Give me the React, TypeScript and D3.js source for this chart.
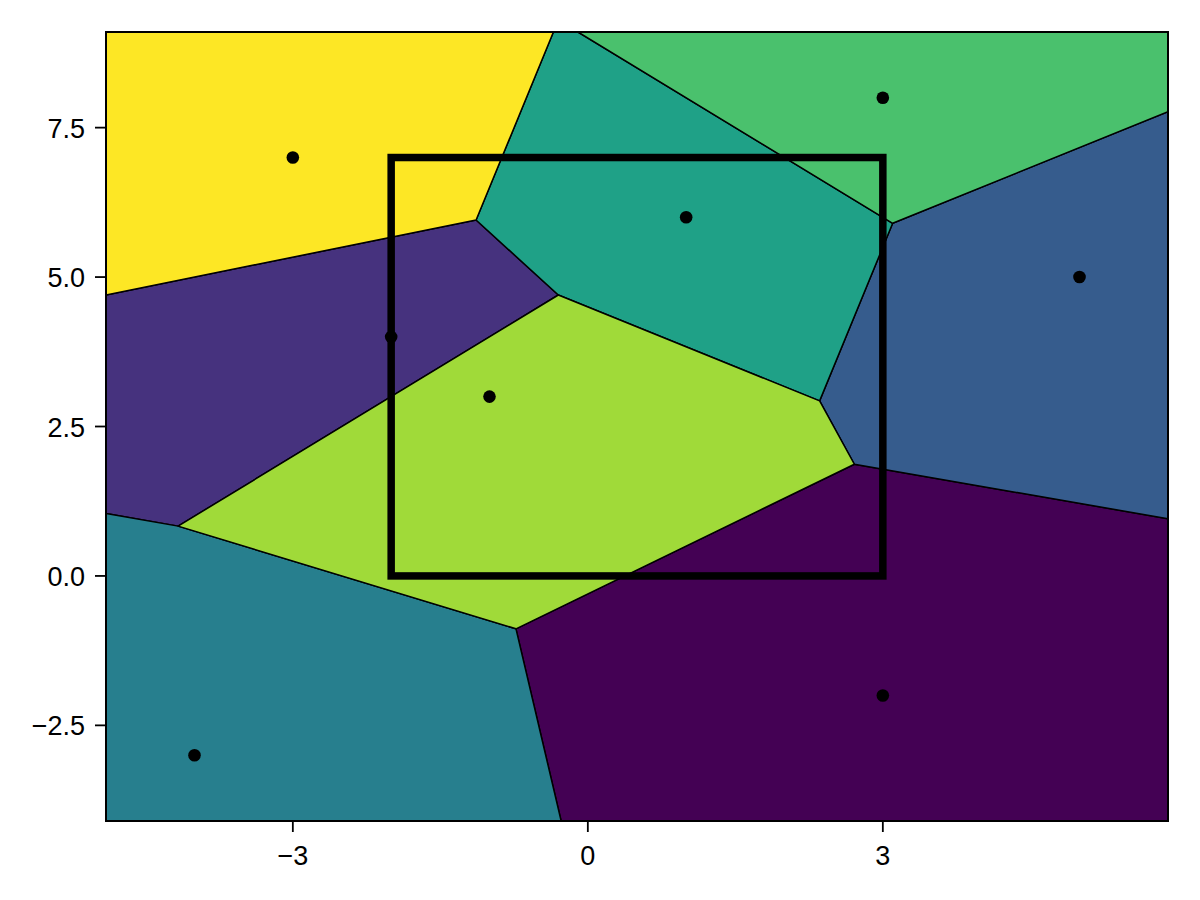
import React from "react";
import * as d3 from "d3";

const pointX = [3, -2, 5, -4, 1, 3, -1, -3];
const pointY = [-2, 4, 5, -3, 6, 8, 3, 7];
const rectX = [-2, 3];
const rectY = [0, 7];
const xTicks = [-3, 0, 3];
const yTicks = [-2.5, 0, 2.5, 5, 7.5];

const W = 1200, H = 900;
const L = 106, R = 1168, T = 32, B = 821;

export default function App() {
  const xmin = d3.min(pointX)!, xmax = d3.max(pointX)!;
  const ymin = d3.min(pointY)!, ymax = d3.max(pointY)!;
  const ex = (xmax - xmin) * 0.1, ey = (ymax - ymin) * 0.1;
  const bx0 = xmin - ex, bx1 = xmax + ex, by0 = ymin - ey, by1 = ymax + ey;
  const x = d3.scaleLinear().domain([bx0, bx1]).range([L, R]);
  const y = d3.scaleLinear().domain([by0, by1]).range([B, T]);
  const pts: [number, number][] = pointX.map((v, i) => [v, pointY[i]]);
  const delaunay = d3.Delaunay.from(pts);
  const vor = delaunay.voronoi([bx0, by0, bx1, by1]);
  const n = pts.length;
  const color = (i: number) => d3.interpolateViridis(i / (n - 1));
  const line = d3.line<[number, number]>().x((d) => x(d[0])).y((d) => y(d[1]));
  const fmt = (v: number) => (v < 0 ? "\u2212" : "") + Math.abs(v).toFixed(1);
  const fmtX = (v: number) => (v < 0 ? "\u2212" : "") + Math.abs(v).toString();
  return (
    <svg width={W} height={H} style={{ position: "absolute", left: 0, top: 0 }}
      fontFamily="'Liberation Sans', Arial, sans-serif">
      <rect x={0} y={0} width={W} height={H} fill="white" />
      <defs>
        <clipPath id="clip"><rect x={L} y={T} width={R - L} height={B - T} /></clipPath>
      </defs>
      <g clipPath="url(#clip)">
        {pts.map((_, i) => {
          const poly = vor.cellPolygon(i) as [number, number][];
          return <path key={i} d={line(poly) + "Z"} fill={color(i)} stroke="black" strokeWidth={1.5} strokeLinejoin="round" />;
        })}
        <rect x={x(rectX[0])} y={y(rectY[1])} width={x(rectX[1]) - x(rectX[0])} height={y(rectY[0]) - y(rectY[1])}
          fill="none" stroke="black" strokeWidth={7.5} />
        {pts.map((p, i) => (
          <circle key={i} cx={x(p[0])} cy={y(p[1])} r={6.3} fill="black" />
        ))}
      </g>
      <rect x={L} y={T} width={R - L} height={B - T} fill="none" stroke="black" strokeWidth={2} />
      {xTicks.map((t) => (
        <g key={t}>
          <line x1={x(t)} x2={x(t)} y1={B} y2={B + 11} stroke="black" strokeWidth={1.8} />
          <text x={x(t)} y={865} textAnchor="middle" fontSize={27}>{fmtX(t)}</text>
        </g>
      ))}
      {yTicks.map((t) => (
        <g key={t}>
          <line x1={L - 11} x2={L} y1={y(t)} y2={y(t)} stroke="black" strokeWidth={1.8} />
          <text x={85} y={y(t) + 10} textAnchor="end" fontSize={27}>{fmt(t)}</text>
        </g>
      ))}
    </svg>
  );
}
